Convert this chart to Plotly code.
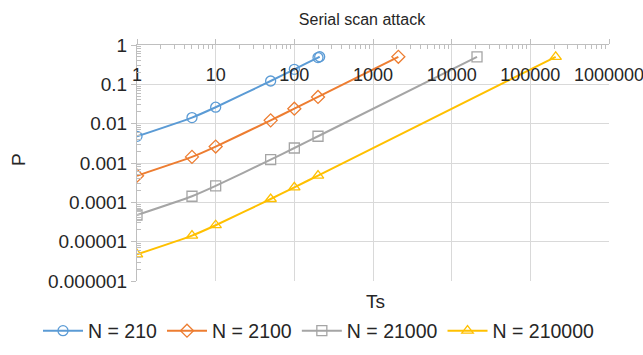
import plotly.graph_objects as go

# Scan time steps and success probability for each network size
ts_210 = [1, 5, 10, 50, 100, 200, 210]
p_210 = [0.00476, 0.01429, 0.02619, 0.1214, 0.2405, 0.4786, 0.5024]

ts_2100 = [1, 5, 10, 50, 100, 200, 2100]
p_2100 = [0.000476, 0.001429, 0.002619, 0.01214, 0.02405, 0.04786, 0.50024]

ts_21000 = [1, 5, 10, 50, 100, 200, 21000]
p_21000 = [0.0000476, 0.0001429, 0.0002619, 0.001214, 0.002405, 0.004786, 0.50002]

ts_210000 = [1, 5, 10, 50, 100, 200, 210000]
p_210000 = [0.00000476, 0.00001429, 0.00002619, 0.0001214, 0.0002405, 0.0004786, 0.500002]

series_names = ["N = 210", "N = 2100", "N = 21000", "N = 210000"]
series_colors = ["#5B9BD5", "#ED7D31", "#A5A5A5", "#FFC000"]
series_symbols = ["circle-open", "diamond-open", "square-open", "triangle-up-open"]

x_tick_vals = [1, 10, 100, 1000, 10000, 100000, 1000000]
x_tick_text = ["1", "10", "100", "1000", "10000", "100000", "1000000"]
y_tick_vals = [1, 0.1, 0.01, 0.001, 0.0001, 0.00001, 0.000001]
y_tick_text = ["1", "0.1", "0.01", "0.001", "0.0001", "0.00001", "0.000001"]

FONT = "Liberation Sans, Arial, sans-serif"
TEXT = "#262626"
AXIS = "#BFBFBF"
GRID = "#D9D9D9"

fig = go.Figure()
for xs, ys, name, color, sym in zip(
    [ts_210, ts_2100, ts_21000, ts_210000],
    [p_210, p_2100, p_21000, p_210000],
    series_names, series_colors, series_symbols,
):
    fig.add_trace(go.Scatter(
        x=xs, y=ys, name=name, mode="lines+markers",
        line=dict(color=color, width=2, shape="spline", smoothing=0.6),
        marker=dict(symbol=sym, size=10, color=color, line=dict(width=1.3, color=color)),
    ))

W, H = 643, 355
L, R, T, B = 137, 34, 45, 74
PW, PH = W - L - R, H - T - B


def px_x(px):
    return (px - L) / PW


def px_y(py):
    return (H - B - py) / PH


fig.update_layout(
    width=W, height=H,
    margin=dict(l=L, r=R, t=T, b=B, pad=0, autoexpand=False),
    paper_bgcolor="white", plot_bgcolor="white",
    font=dict(family=FONT, size=15, color=TEXT),
    title=dict(text="Serial scan attack", x=px_x(362), xref="paper",
               xanchor="center", y=1 - 19 / H, yanchor="middle",
               font=dict(size=16, color=TEXT), automargin=False),
    showlegend=True,
    legend=dict(orientation="h", x=px_x(38), xref="paper", xanchor="left",
                y=px_y(331), yref="paper", yanchor="middle",
                font=dict(size=19.5, color=TEXT), itemwidth=40,
                tracegroupgap=0, bgcolor="rgba(0,0,0,0)"),
    xaxis=dict(
        type="log", range=[0, 6], side="top", automargin=False,
        tickvals=x_tick_vals, ticktext=x_tick_text,
        ticklabelposition="inside", ticklabelstandoff=24,
        ticklabeloverflow="allow",
        tickfont=dict(size=18, color=TEXT),
        ticks="outside", ticklen=5, tickcolor=AXIS,
        showline=True, linecolor=AXIS, linewidth=1,
        showgrid=True, gridcolor=GRID, gridwidth=1,
        zeroline=False,
        minor=dict(ticks="inside", ticklen=4, tickcolor=AXIS, showgrid=False,
                   tickvals=[m * 10 ** d for d in range(6) for m in range(2, 10)]),
    ),
    yaxis=dict(
        type="log", range=[-6, 0], automargin=False,
        tickvals=y_tick_vals, ticktext=y_tick_text,
        ticklabeloverflow="allow",
        tickfont=dict(size=19, color=TEXT),
        ticks="outside", ticklen=5, tickcolor=AXIS,
        showline=True, linecolor=AXIS, linewidth=1,
        showgrid=True, gridcolor=GRID, gridwidth=1,
        zeroline=False,
        minor=dict(ticks="inside", ticklen=4, tickcolor=AXIS, showgrid=False,
                   tickvals=[m * 10.0 ** d for d in range(-6, 0) for m in range(2, 10)]),
    ),
)

# Axis titles placed at the bottom / left of the chart
fig.add_annotation(text="Ts", x=px_x(375), xref="paper", y=px_y(301), yref="paper",
                   showarrow=False, font=dict(size=19, color=TEXT),
                   xanchor="center", yanchor="middle")
fig.add_annotation(text="P", x=px_x(18), xref="paper", y=px_y(160), yref="paper",
                   showarrow=False, textangle=-90, font=dict(size=19, color=TEXT),
                   xanchor="center", yanchor="middle")

fig.write_html("out.html")
